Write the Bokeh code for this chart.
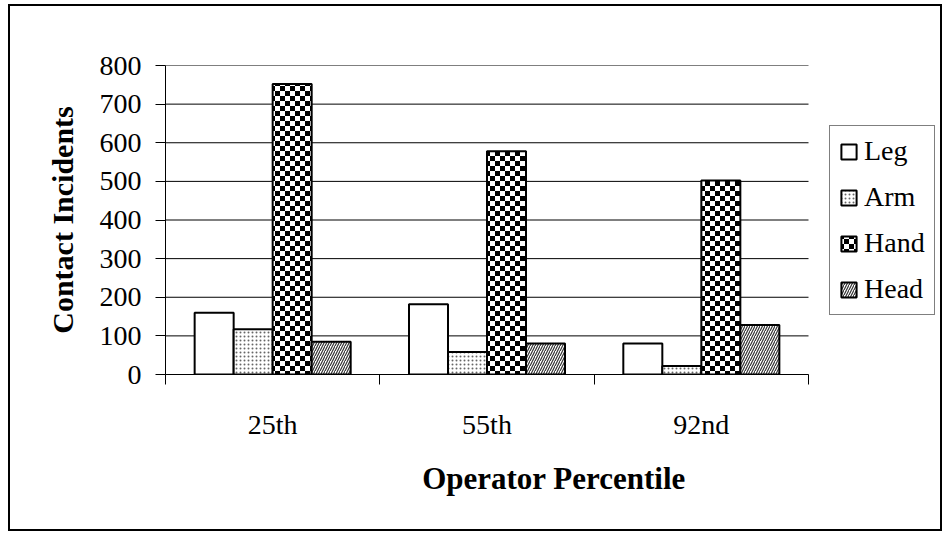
import base64, struct, zlib
from bokeh.plotting import figure
from bokeh.models import (ColumnDataSource, Range1d, LinearAxis, FixedTicker, Legend, LegendItem,
                          ImageURLTexture)
from bokeh.core.properties import value
from bokeh.transform import dodge
from bokeh.embed import file_html
from bokeh.resources import INLINE

categories = ["25th", "55th", "92nd"]
series = ["Leg", "Arm", "Hand", "Head"]
leg = [160, 182, 80]
arm = [117, 58, 22]
hand = [752, 578, 502]
head = [85, 80, 128]
y_ticks = [0, 100, 200, 300, 400, 500, 600, 700, 800]

n = len(categories)
centers = [i + 0.5 for i in range(n)]
src = ColumnDataSource(dict(pos=centers, Leg=leg, Arm=arm, Hand=hand, Head=head))


def checker_png(cell=5):
    size = cell * 2
    rows = []
    for yy in range(size):
        row = bytearray([0])
        for xx in range(size):
            dark = ((xx // cell) + (yy // cell)) % 2 == 0
            row += bytes([0, 0, 0, 255]) if dark else bytes([255, 255, 255, 255])
        rows.append(bytes(row))
    raw = b"".join(rows)

    def chunk(tag, data):
        c = struct.pack(">I", len(data)) + tag + data
        return c + struct.pack(">I", zlib.crc32(tag + data) & 0xffffffff)

    png = b"\x89PNG\r\n\x1a\n"
    png += chunk(b"IHDR", struct.pack(">IIBBBBB", size, size, 8, 6, 0, 0, 0))
    png += chunk(b"IDAT", zlib.compress(raw))
    png += chunk(b"IEND", b"")
    return "data:image/png;base64," + base64.b64encode(png).decode()


FONT = "Liberation Serif"
W, H = 934, 527
LEFT, RIGHT, TOP, BOTTOM = 155, 2, 59, 159
plot_px = 643  # width used by the categories; the rest of the frame hosts the legend
frame_px = W - LEFT - RIGHT
p = figure(width=W, height=H, x_range=Range1d(0, n * frame_px / plot_px),
           y_range=Range1d(0, 800), output_backend="svg", toolbar_location=None,
           x_axis_location=None, y_axis_location="left",
           min_border_left=LEFT, min_border_right=RIGHT, min_border_top=TOP, min_border_bottom=BOTTOM,
           outline_line_color=None, background_fill_color="white", border_fill_color="white")
p.styles = {"border": "2px solid black", "margin-left": "8px", "margin-top": "4px"}
p.xgrid.grid_line_color = None
p.ygrid.grid_line_color = None

# horizontal gridlines limited to the category area
p.segment(x0=0, x1=n, y0=y_ticks, y1=y_ticks, line_color="black", line_width=1)

bw = 0.182
checker = ImageURLTexture(url=checker_png(5), repetition="repeat")
styles = {
    "Leg": dict(fill_color="white"),
    "Arm": dict(fill_color="white", hatch_pattern="dot", hatch_scale=4, hatch_weight=1.2, hatch_color="#666666"),
    "Hand": dict(fill_color="white", hatch_pattern=value("checker"), hatch_extra={"checker": checker},
                 hatch_scale=10, hatch_color="black"),
    "Head": dict(fill_color="white", hatch_pattern="right_diagonal_line", hatch_scale=5, hatch_weight=1.2, hatch_color="#333333"),
}
offsets = [-1.5 * bw, -0.5 * bw, 0.5 * bw, 1.5 * bw]
items = []
for s, off in zip(series, offsets):
    r = p.vbar(x=dodge("pos", off), top=s, width=bw, source=src,
               line_color="black", line_width=2, **styles[s])
    items.append(LegendItem(label=s, renderers=[r]))

# y axis
ya = p.yaxis[0]
ya.ticker = FixedTicker(ticks=y_ticks)
ya.axis_label = "Contact Incidents"
ya.axis_label_text_font = FONT
ya.axis_label_text_font_style = "bold"
ya.axis_label_text_font_size = "30px"
ya.axis_label_text_color = "black"
ya.axis_label_standoff = 18
ya.major_label_text_font = FONT
ya.major_label_text_font_size = "28px"
ya.major_label_text_color = "black"
ya.major_label_standoff = 14
ya.major_tick_in = 0
ya.major_tick_out = 10
ya.minor_tick_out = 0
ya.minor_tick_in = 0
ya.axis_line_color = "black"
ya.major_tick_line_color = "black"

# x tick axis at category boundaries
bounds = list(range(n + 1))
ta = LinearAxis(ticker=FixedTicker(ticks=bounds), bounds=(0, n),
                major_label_overrides={b: "" for b in bounds},
                major_label_text_font_size="1px", major_label_standoff=0,
                major_tick_in=0, major_tick_out=10, minor_tick_out=0, minor_tick_in=0,
                axis_line_color="black", major_tick_line_color="black")
p.add_layout(ta, "below")

ca = LinearAxis(ticker=FixedTicker(ticks=centers), bounds=(0, n),
                major_label_overrides={c: lab for c, lab in zip(centers, categories)},
                axis_line_color=None, major_tick_line_color=None, minor_tick_line_color=None,
                major_tick_out=0, major_tick_in=0, minor_tick_out=0, minor_tick_in=0,
                major_label_standoff=24, major_label_text_color="black",
                major_label_text_font=FONT, major_label_text_font_size="28px",
                axis_label="Operator Percentile", axis_label_text_font=FONT,
                axis_label_text_color="black",
                axis_label_text_font_style="bold", axis_label_text_font_size="31px",
                axis_label_standoff=18)
p.add_layout(ca, "below")

legend = Legend(items=items, location=(664, 59), border_line_color="black", border_line_width=1,
                label_text_font=FONT, label_text_font_size="28px", label_text_color="black",
                glyph_width=19, glyph_height=19,
                label_height=28, spacing=14, padding=9, margin=0, label_standoff=6,
                background_fill_color="white", background_fill_alpha=1)
p.add_layout(legend, "center")

open("out.html", "w").write(file_html(p, INLINE))
